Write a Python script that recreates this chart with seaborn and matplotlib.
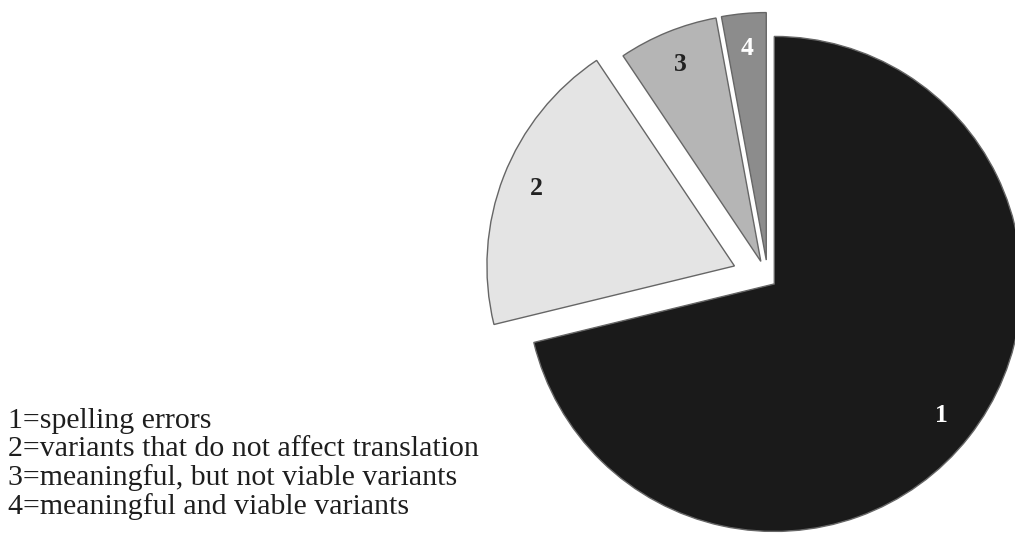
import matplotlib
matplotlib.use("Agg")
import matplotlib.pyplot as plt
import seaborn as sns

# shares of the four variant types (in %)
categories = ["1", "2", "3", "4"]
shares = [71.2, 19.4, 6.5, 2.9]
legend_lines = [
    "1=spelling errors",
    "2=variants that do not affect translation",
    "3=meaningful, but not viable variants",
    "4=meaningful and viable variants",
]

sns.set_style("white")
plt.rcParams['font.family'] = ['Liberation Serif', 'DejaVu Serif']

colors = ["#1a1a1a", "#e4e4e4", "#b5b5b5", "#8c8c8c"]
label_colors = ["white", "#222222", "#222222", "white"]

W, H = 1015, 533
fig = plt.figure(figsize=(W / 100, H / 100), dpi=100)
ax = fig.add_axes([0, 0, 1, 1])

# pie drawn in pixel units so it can run off the right edge like the original
# (explode is in the same units here)
radius = 247.5
wedges, texts = ax.pie(
    shares,
    labels=categories,
    explode=[8, 36, 19, 19],
    startangle=90,
    counterclock=False,
    colors=colors,
    radius=radius,
    center=(768, H - 279),
    labeldistance=0.86,
    wedgeprops=dict(edgecolor="#666666", linewidth=1.0),
    textprops=dict(fontsize=18.5, fontweight='bold'),
    frame=True,
)
ax.set_xlim(0, W)
ax.set_ylim(0, H)
ax.set_aspect('equal')
ax.axis('off')
for t, c in zip(texts, label_colors):
    t.set_color(c)
    t.set_ha('center')
    t.set_va('center')

# key in the lower left
for i, line in enumerate(legend_lines):
    ax.text(8, H - 421 - i * 28.5, line, fontsize=21.5, color="#1e1e1e",
            ha='left', va='center')

fig.savefig("out.png", dpi=100)
